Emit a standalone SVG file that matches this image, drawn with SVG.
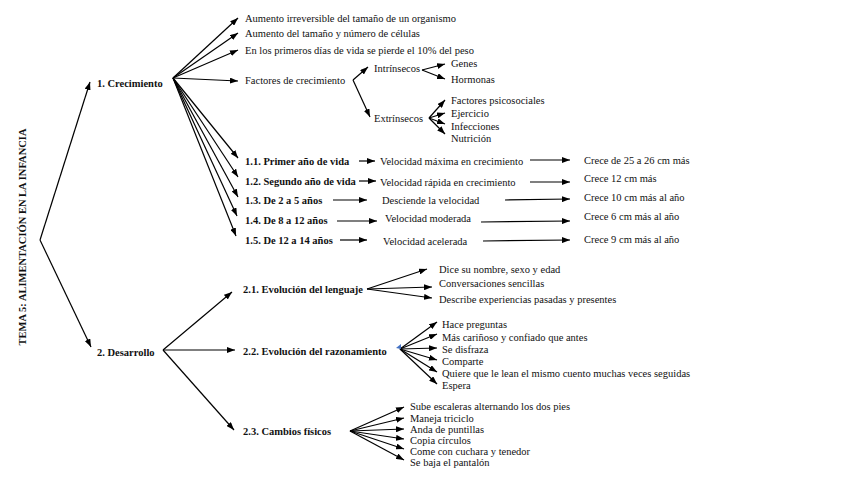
<svg xmlns="http://www.w3.org/2000/svg" width="848" height="477" viewBox="0 0 848 477">
<defs>
<marker id="ah" viewBox="0 0 8 6" refX="8" refY="3" markerWidth="8" markerHeight="6" markerUnits="userSpaceOnUse" orient="auto">
<path d="M0,0 L8,3 L0,6 Z" fill="#000"/>
</marker>
</defs>
<style>
text{font-family:"Liberation Serif","Times New Roman",serif;font-size:10.5px;fill:#111}
.b{font-weight:bold}
.c line{stroke:#000;stroke-width:1.2;fill:none;marker-end:url(#ah)}
</style>
<rect width="848" height="477" fill="#fff"/>
<g id="title"><text class="b" transform="translate(26,237) rotate(-90)" text-anchor="middle" style="font-size:10.5px">TEMA 5: ALIMENTACIÓN EN LA INFANCIA</text></g>
<g class="c" id="connectors">
<line x1="40" y1="240" x2="90" y2="82"/>
<line x1="40" y1="240" x2="91" y2="347"/>
<line x1="173" y1="78" x2="238" y2="18"/>
<line x1="173" y1="78" x2="238" y2="33"/>
<line x1="173" y1="78" x2="238" y2="50"/>
<line x1="173" y1="78" x2="238" y2="81"/>
<line x1="173" y1="78" x2="238" y2="158"/>
<line x1="173" y1="78" x2="238" y2="177"/>
<line x1="173" y1="78" x2="238" y2="197"/>
<line x1="173" y1="78" x2="237" y2="216"/>
<line x1="173" y1="78" x2="236" y2="236"/>
<line x1="353" y1="80" x2="368" y2="67"/>
<line x1="353" y1="80" x2="370" y2="117"/>
<line x1="422" y1="70" x2="445" y2="64"/>
<line x1="422" y1="70" x2="445" y2="79"/>
<line x1="429" y1="118" x2="445" y2="100"/>
<line x1="429" y1="118" x2="445" y2="113"/>
<line x1="429" y1="118" x2="445" y2="124"/>
<line x1="429" y1="118" x2="445" y2="134"/>
<line x1="359" y1="161" x2="375" y2="161"/>
<line x1="530" y1="160" x2="570" y2="160"/>
<line x1="359" y1="181" x2="376" y2="181"/>
<line x1="530" y1="182" x2="570" y2="182"/>
<line x1="333" y1="200" x2="367" y2="200"/>
<line x1="505" y1="200" x2="570" y2="199"/>
<line x1="337" y1="221" x2="377" y2="221"/>
<line x1="481" y1="222" x2="570" y2="221"/>
<line x1="340" y1="240" x2="367" y2="240"/>
<line x1="483" y1="241" x2="570" y2="240"/>
<line x1="163" y1="350" x2="232" y2="292"/>
<line x1="163" y1="350" x2="235" y2="350"/>
<line x1="163" y1="350" x2="234" y2="430"/>
<line x1="367" y1="289" x2="427" y2="269"/>
<line x1="367" y1="289" x2="432" y2="287"/>
<line x1="367" y1="289" x2="432" y2="298"/>
<line x1="400" y1="349" x2="437" y2="322"/>
<line x1="400" y1="349" x2="437" y2="334"/>
<line x1="400" y1="349" x2="437" y2="348"/>
<line x1="400" y1="349" x2="437" y2="360"/>
<line x1="400" y1="349" x2="437" y2="372"/>
<line x1="400" y1="349" x2="437" y2="384"/>
<line x1="350" y1="431" x2="404" y2="407"/>
<line x1="350" y1="431" x2="404" y2="418"/>
<line x1="350" y1="431" x2="404" y2="429"/>
<line x1="350" y1="431" x2="404" y2="439"/>
<line x1="350" y1="431" x2="404" y2="449"/>
<line x1="350" y1="431" x2="404" y2="460"/>
</g>
<polygon points="396,348 401,344 401,349" fill="#4472C4"/>
<g id="n1"><text class="b" x="97" y="87">1. Crecimiento</text></g>
<g id="n1a"><text x="245" y="22">Aumento irreversible del tamaño de un organismo</text></g>
<g id="n1b"><text x="245" y="37">Aumento del tamaño y número de células</text></g>
<g id="n1c"><text x="245" y="54">En los primeros días de vida se pierde el 10% del peso</text></g>
<g id="n1d"><text x="245" y="84">Factores de crecimiento</text></g>
<g id="nint"><text x="374" y="72">Intrínsecos</text></g>
<g id="next"><text x="374" y="122">Extrínsecos</text></g>
<g id="ngen"><text x="451" y="67">Genes</text></g>
<g id="nhor"><text x="451" y="83">Hormonas</text></g>
<g id="nfp"><text x="451" y="104">Factores psicosociales</text></g>
<g id="nej"><text x="451" y="117">Ejercicio</text></g>
<g id="ninf"><text x="451" y="130">Infecciones</text></g>
<g id="nnut"><text x="451" y="142">Nutrición</text></g>
<g id="n11"><text class="b" x="245" y="165">1.1. Primer año de vida</text><text x="380" y="165">Velocidad máxima en crecimiento</text><text x="584" y="164">Crece de 25 a 26 cm más</text></g>
<g id="n12"><text class="b" x="245" y="185">1.2. Segundo año de vida</text><text x="380" y="186">Velocidad rápida en crecimiento</text><text x="584" y="182">Crece 12 cm más</text></g>
<g id="n13"><text class="b" x="245" y="204">1.3. De 2 a 5 años</text><text x="382" y="204">Desciende la velocidad</text><text x="584" y="201">Crece 10 cm más al año</text></g>
<g id="n14"><text class="b" x="245" y="224">1.4. De 8 a 12 años</text><text x="385" y="222">Velocidad moderada</text><text x="584" y="220">Crece 6 cm más al año</text></g>
<g id="n15"><text class="b" x="245" y="244">1.5. De 12 a 14 años</text><text x="383" y="245">Velocidad acelerada</text><text x="584" y="243">Crece 9 cm más al año</text></g>
<g id="n2"><text class="b" x="97" y="356">2. Desarrollo</text></g>
<g id="n21"><text class="b" x="243" y="293">2.1. Evolución del lenguaje</text></g>
<g id="n21a"><text x="439" y="273">Dice su nombre, sexo y edad</text></g>
<g id="n21b"><text x="439" y="287">Conversaciones sencillas</text></g>
<g id="n21c"><text x="439" y="303">Describe experiencias pasadas y presentes</text></g>
<g id="n22"><text class="b" x="243" y="355">2.2. Evolución del razonamiento</text></g>
<g id="n22a"><text x="442" y="328">Hace preguntas</text></g>
<g id="n22b"><text x="442" y="341">Más cariñoso y confiado que antes</text></g>
<g id="n22c"><text x="442" y="353">Se disfraza</text></g>
<g id="n22d"><text x="442" y="365">Comparte</text></g>
<g id="n22e"><text x="442" y="377">Quiere que le lean el mismo cuento muchas veces seguidas</text></g>
<g id="n22f"><text x="442" y="389">Espera</text></g>
<g id="n23"><text class="b" x="243" y="435">2.3. Cambios físicos</text></g>
<g id="n23a"><text x="410" y="410">Sube escaleras alternando los dos pies</text></g>
<g id="n23b"><text x="410" y="422">Maneja triciclo</text></g>
<g id="n23c"><text x="410" y="433">Anda de puntillas</text></g>
<g id="n23d"><text x="410" y="444">Copia círculos</text></g>
<g id="n23e"><text x="410" y="455">Come con cuchara y tenedor</text></g>
<g id="n23f"><text x="410" y="466">Se baja el pantalón</text></g>
</svg>
